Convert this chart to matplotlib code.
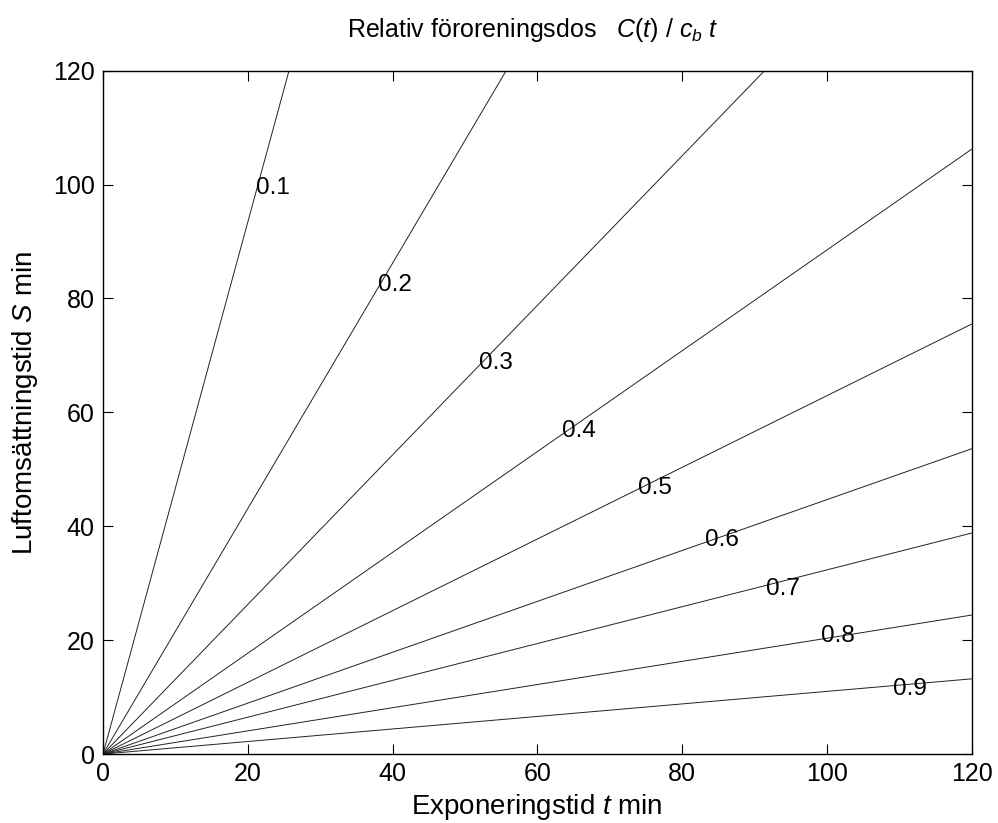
import matplotlib
matplotlib.use("Agg")
import matplotlib.pyplot as plt
import numpy as np

plt.rcParams['font.family'] = ['Liberation Sans', 'DejaVu Sans']
plt.rcParams['mathtext.fontset'] = 'custom'
plt.rcParams['mathtext.rm'] = 'Liberation Sans'
plt.rcParams['mathtext.it'] = 'Liberation Sans:italic'

# dose levels and where each isoline leaves the box
levels = [0.1, 0.2, 0.3, 0.4, 0.5, 0.6, 0.7, 0.8, 0.9]
t_at_top = [25.7, 55.7, 91.4]                     # t where S = 120 (levels 0.1-0.3)
s_at_right = [106.2, 75.5, 53.6, 38.8, 24.4, 13.2]  # S where t = 120 (levels 0.4-0.9)

# label positions (t, S)
label_t = [23.5, 40.4, 54.3, 65.8, 76.3, 85.5, 94.0, 101.5, 111.5]
label_s = [99.4, 82.3, 68.6, 56.7, 46.7, 37.5, 29.0, 20.8, 11.5]

ticks = [0, 20, 40, 60, 80, 100, 120]

fig = plt.figure(figsize=(9.98, 8.23), dpi=100)
ax = fig.add_axes([0.1032, 0.0838, 0.8703, 0.8303])

ends = [(t, 120) for t in t_at_top] + [(120, s) for s in s_at_right]
for (te, se) in ends:
    ax.plot([0, te], [0, se], color='#222222', lw=0.7)

for lev, lt, ls in zip(levels, label_t, label_s):
    ax.text(lt, ls, '%.1f' % lev, fontsize=17.5, ha='center', va='center')

ax.set_xlim(0, 120)
ax.set_ylim(0, 120)
ax.set_xticks(ticks)
ax.set_yticks(ticks)
ax.tick_params(direction='in', length=7, width=0.8, top=True, right=True,
               labelsize=18, pad=6)
for sp in ax.spines.values():
    sp.set_linewidth(1.0)

ax.set_xlabel(r'Exponeringstid $\mathit{t}$ min', fontsize=20)
ax.set_ylabel(r'Luftomsättningstid $\mathit{S}$ min', fontsize=20)
ax.xaxis.set_label_coords(0.5, -0.055)
ax.yaxis.set_label_coords(-0.073, 0.514)
fig.text(347 / 998, 1 - 37 / 823,
         r'Relativ föroreningsdos   $\mathit{C(t)\ /\ c_b\ t}$',
         fontsize=18, ha='left', va='baseline')

fig.savefig('out.png', dpi=100)
